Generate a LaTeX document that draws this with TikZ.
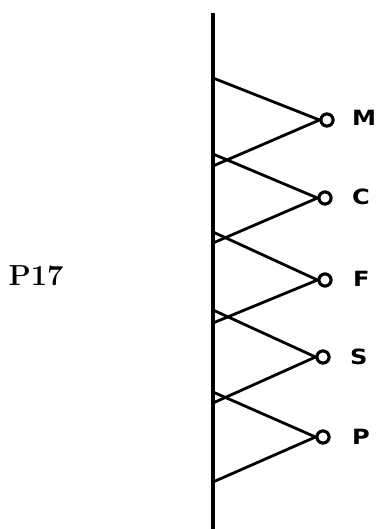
\documentclass[tikz,border=0pt]{standalone}
\usepackage{fontspec}
\newfontfamily\labfont{DejaVu Sans}
\tikzset{
  ring/.style={draw, circle, line width=3pt, minimum size=12pt, inner sep=0pt, fill=white},
  arm/.style={line width=2.8pt, line cap=round},
  stem/.style={line width=3.8pt},
  lab/.style={font=\labfont\bfseries\fontsize{21}{21}\selectfont, anchor=west, inner sep=0pt, xscale=1.15},
}
\begin{document}
\begin{tikzpicture}[x=1pt,y=-1pt]
\useasboundingbox (0,0) rectangle (381,529);
\fill[white] (0,0) rectangle (381,529);
\coordinate (top) at (213,13);
\coordinate (bot) at (213,529);
\draw[stem] (top) -- (bot);
% attachment points on the stem
\coordinate (m1) at (213,78);
\coordinate (m2) at (213,166);
\coordinate (c1) at (213,154);
\coordinate (c2) at (213,243);
\coordinate (f1) at (213,232);
\coordinate (f2) at (213,323);
\coordinate (s1) at (213,310);
\coordinate (s2) at (213,403);
\coordinate (p1) at (213,392);
\coordinate (p2) at (213,482);
% rings
\node[ring] (m) at (327,120) {};
\node[ring] (c) at (325,198) {};
\node[ring] (f) at (325,280) {};
\node[ring] (s) at (323,357) {};
\node[ring] (p) at (323,437) {};
% arms
\foreach \n in {m,c,f,s,p}{
  \draw[arm] (\n1) -- (\n.west);
  \draw[arm] (\n.west) -- (\n2);
}
\foreach \n in {m,c,f,s,p}{
  \node[ring] at (\n) {};
}
% labels
\node[lab] (lm) at (352,118) {M};
\node[lab] (lc) at (352,197) {C};
\node[lab] (lf) at (353,279) {F};
\node[lab] (ls) at (350,357) {S};
\node[lab] (lp) at (352,437) {P};
\node[font=\bfseries\fontsize{29}{29}\selectfont, inner sep=0pt] (title) at (36,276) {P17};
\end{tikzpicture}
\end{document}
